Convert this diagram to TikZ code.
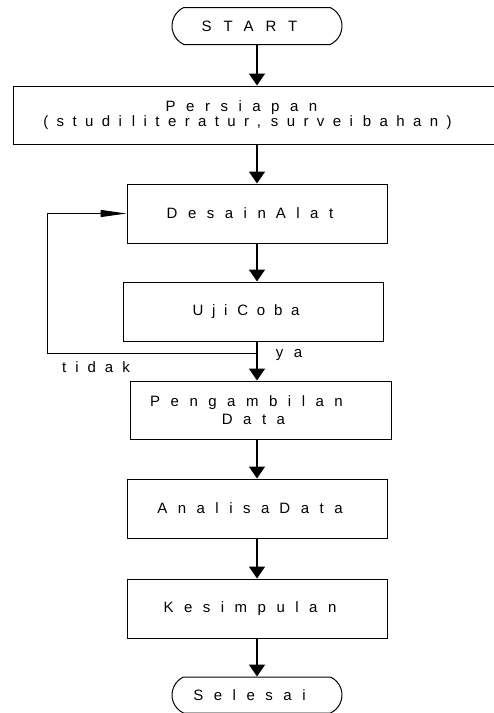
\documentclass[tikz,border=0pt]{standalone}
\usepackage{fontspec}
\setmainfont{Liberation Sans}
\usetikzlibrary{arrows.meta, shapes.misc}
\newcommand{\flowfont}{\fontsize{15}{17}\selectfont\addfontfeature{LetterSpace=70}}
\newcommand{\spword}[1]{\mbox{#1}\hspace{10pt}}

\begin{document}
\begin{tikzpicture}[node distance=98.5pt, >={Triangle[length=12pt, width=16pt]}, line width=1pt]
  \tikzstyle{spaced} = [font=\flowfont]
  \tikzstyle{block} = [draw, rectangle, spaced, minimum height=59pt, minimum width=260pt, inner sep=0pt, align=center, execute at end node=\kern14pt]
  \tikzstyle{term} = [draw, rounded rectangle, rounded rectangle arc length=130, spaced, minimum height=37pt, minimum width=170pt, inner sep=0pt, execute at end node=\kern15pt]
  \tikzstyle{lbl} = [spaced, inner sep=0pt]
  \tikzstyle{tmp} = [coordinate]
  \tikzstyle{flow} = [->, line width=1.6pt]
  \useasboundingbox (0,0) rectangle (494pt,-713pt);

  \node [term] (start) at (257pt,-26pt) {\addfontfeature{LetterSpace=80}START};
  \node [block, below of=start, node distance=89pt, xshift=-2.5pt, minimum width=483pt, minimum height=58pt] (persiapan)
    {Persiapan\kern12pt\\[-2pt]\addfontfeature{LetterSpace=56}\spword{(studi}\spword{literatur,}\spword{survei}bahan)};
  \node [block, below of=persiapan, xshift=2.5pt] (desain) {\spword{Desain}Alat};
  \node [block, below of=desain, node distance=98pt, xshift=-4pt] (uji) {\addfontfeature{LetterSpace=58}\spword{Uji}Coba};
  \node [block, below of=uji, xshift=7.5pt, minimum width=261pt, minimum height=58pt] (ambil) {Pengambilan\kern14pt\\[1pt]Data};
  \node [block, below of=ambil, xshift=-3.5pt] (analisa) {\spword{Analisa}Data};
  \node [block, below of=analisa, node distance=100pt] (kesimpulan) {Kesimpulan};
  \node [term, below of=kesimpulan, node distance=86.5pt, minimum height=36pt] (selesai) {Selesai};

  \node [tmp, below of=uji, node distance=41.5pt, xshift=4pt] (split) {};
  \node [tmp, left of=split, node distance=210pt] (lowerleft) {};
  \node [lbl, right of=split, node distance=32pt, yshift=-2pt] (ya) {ya};
  \node [lbl, right of=lowerleft, node distance=49pt, yshift=-14pt] (tidak) {\addfontfeature{LetterSpace=60}tidak};

  \draw [flow] (start) -- (start |- persiapan.north);
  \draw [flow] (start |- persiapan.south) -- (start |- desain.north);
  \draw [flow] (desain) -- (start |- uji.north);
  \draw [flow] (start |- uji.south) -- (start |- ambil.north);
  \draw [flow] (start |- ambil.south) -- (start |- analisa.north);
  \draw [flow] (analisa) -- (kesimpulan);
  \draw [flow] (kesimpulan) -- (selesai);
  \draw [->, >={Triangle[length=26pt, width=7pt]}] (split) -- (lowerleft) |- (desain);
\end{tikzpicture}
\end{document}
